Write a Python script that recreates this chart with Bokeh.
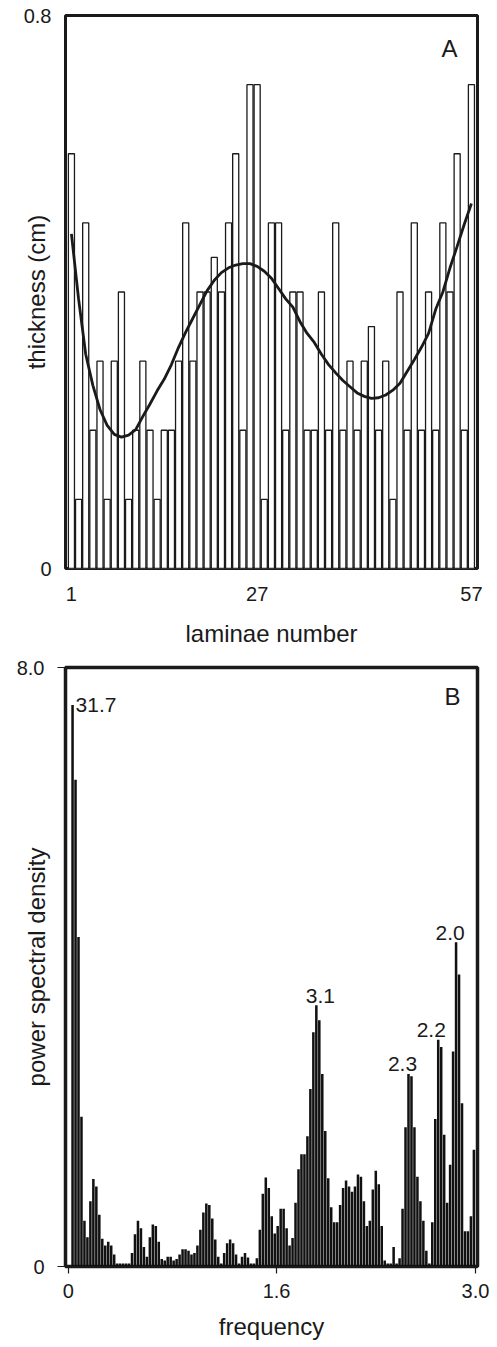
from bokeh.plotting import figure
from bokeh.layouts import column
from bokeh.models import Range1d, FixedTicker, Label, ColumnDataSource
from bokeh.core.properties import value
from bokeh.embed import file_html
from bokeh.resources import INLINE

FONT = "Liberation Sans"
INK = "#1a1a1a"

# ---------------- Panel A data ----------------
laminae = list(range(1, 58))
thickness = [0.6, 0.1, 0.5, 0.2, 0.3, 0.1, 0.3, 0.4, 0.1, 0.2,
             0.3, 0.2, 0.1, 0.2, 0.2, 0.3, 0.5, 0.3, 0.4, 0.4,
             0.45, 0.4, 0.5, 0.6, 0.2, 0.7, 0.7, 0.1, 0.5, 0.5,
             0.2, 0.4, 0.4, 0.2, 0.2, 0.4, 0.2, 0.5, 0.2, 0.3,
             0.2, 0.3, 0.35, 0.2, 0.3, 0.1, 0.4, 0.2, 0.5, 0.2,
             0.4, 0.2, 0.5, 0.4, 0.6, 0.2, 0.7]
trend = [0.484, 0.39, 0.31, 0.265, 0.23, 0.207, 0.194, 0.19, 0.193, 0.201,
         0.22, 0.238, 0.257, 0.274, 0.295, 0.32, 0.342, 0.362, 0.382, 0.402,
         0.417, 0.428, 0.435, 0.439, 0.441, 0.441, 0.437, 0.43, 0.42, 0.405,
         0.39, 0.378, 0.357, 0.34, 0.327, 0.31, 0.295, 0.283, 0.272, 0.263,
         0.254, 0.249, 0.246, 0.247, 0.251, 0.258, 0.268, 0.285, 0.302, 0.32,
         0.34, 0.375, 0.40, 0.435, 0.466, 0.498, 0.528]
a_xticks = [1, 27, 57]
a_yticks = [0, 0.8]
a_ylabels = ["0", "0.8"]

# ---------------- Panel B data ----------------
psd = [7.5, 6.5, 4.4, 2.0, 0.61, 0.39, 0.87, 1.17, 1.07, 0.69,
       0.37, 0.28, 0.33, 0.28, 0.16, 0.04, 0.04, 0.04, 0.04, 0.04,
       0.18, 0.43, 0.61, 0.51, 0.26, 0.13, 0.39, 0.56, 0.54, 0.33,
       0.1, 0.08, 0.13, 0.13, 0.08, 0.1, 0.16, 0.23, 0.23, 0.21,
       0.16, 0.18, 0.28, 0.49, 0.72, 0.84, 0.82, 0.64, 0.36, 0.13,
       0.04, 0.18, 0.31, 0.36, 0.31, 0.16, 0.04, 0.13, 0.18, 0.12,
       0.04, 0.04, 0.11, 0.49, 0.97, 1.19, 1.05, 0.67, 0.44,
       0.54, 0.77, 0.77, 0.51, 0.28, 0.38, 0.85, 1.3, 1.5, 1.5,
       1.74, 2.37, 3.13, 3.49, 3.29, 2.57, 1.81, 1.18, 0.79, 0.59,
       0.59, 0.82, 1.05, 1.15, 1.07, 1.0, 1.07, 1.23, 1.2, 0.87,
       0.54, 0.61, 1.03, 1.28, 1.1, 0.54, 0.08, 0.04, 0.04, 0.26,
       0.04, 0.11, 0.77, 1.86, 2.57, 2.54, 1.86, 1.2, 0.87, 0.61,
       0.21, 0.04, 0.59, 1.97, 3.03, 2.93, 1.76, 0.85, 1.36, 2.87,
       4.33, 3.9, 2.18, 0.47, 0.47, 0.67, 1.56]
FREQ_START = 0.032      # first spectral bin
FREQ_STEP = 0.0219      # spacing of the spectral bins
freq = [FREQ_START + i * FREQ_STEP for i in range(len(psd))]
peak_text = ["31.7", "3.1", "2.3", "2.2", "2.0"]
peak_bin = [0, 82, 113, 123, 129]
b_xticks = [0, 1.535, 3.0]
b_xlabels = ["0", "1.6", "3.0"]
b_yticks = [0, 8]
b_ylabels = ["0", "8.0"]


def style_axes(p):
    for ax in (p.xaxis[0], p.yaxis[0]):
        ax.axis_line_color = None
        ax.major_tick_line_color = INK
        ax.major_tick_line_width = 1.2
        ax.major_tick_in = 0
        ax.minor_tick_line_color = None
        ax.major_label_text_font = FONT
        ax.major_label_text_font_size = "20px"
        ax.major_label_text_color = INK
        ax.axis_label_text_font = FONT
        ax.axis_label_text_font_size = "24px"
        ax.axis_label_text_font_style = "normal"
        ax.axis_label_text_color = INK
    p.xgrid.grid_line_color = None
    p.ygrid.grid_line_color = None
    p.outline_line_color = INK
    p.background_fill_color = "white"
    p.border_fill_color = "white"


# ---------------- Panel A ----------------
pA = figure(width=493, height=654,
            x_range=Range1d(0.17, 57.85), y_range=Range1d(0, 0.8),
            output_backend="svg", toolbar_location=None,
            min_border_left=64, min_border_right=12,
            min_border_top=15, min_border_bottom=86)
style_axes(pA)
pA.outline_line_width = 3
pA.vbar(x=laminae, top=thickness, bottom=0, width=0.85,
        fill_color="white", line_color=INK, line_width=1.3)
pA.line(laminae, trend, line_color=INK, line_width=2.8)
pA.xaxis.ticker = FixedTicker(ticks=a_xticks)
pA.yaxis.ticker = FixedTicker(ticks=a_yticks)
pA.yaxis.major_label_overrides = dict(zip(a_yticks, a_ylabels))
pA.xaxis.major_tick_out = 0
pA.yaxis.major_tick_out = 0
pA.xaxis.major_label_standoff = 18
pA.yaxis.major_label_standoff = 14
pA.xaxis.axis_label = "laminae number"
pA.xaxis.axis_label_standoff = 16
pA.yaxis.axis_label = "thickness (cm)"
pA.yaxis.axis_label_standoff = -29
pA.add_layout(Label(x=pA.x_range.end, y=pA.y_range.end, text="A",
                    x_offset=-20, y_offset=-19, text_align="right",
                    text_baseline="top", text_font=FONT,
                    text_font_size="24px", text_color=INK))

# ---------------- Panel B ----------------
pB = figure(width=493, height=690,
            x_range=Range1d(-0.02, 3.015), y_range=Range1d(0, 8.0),
            output_backend="svg", toolbar_location=None,
            min_border_left=65, min_border_right=16,
            min_border_top=13, min_border_bottom=78)
style_axes(pB)
pB.outline_line_width = 3.5
pB.vbar(x=freq, top=psd, bottom=0, width=FREQ_STEP * 0.85,
        fill_color="#111111", line_color=None)
pB.xaxis.ticker = FixedTicker(ticks=b_xticks)
pB.xaxis.major_label_overrides = dict(zip(b_xticks, b_xlabels))
pB.yaxis.ticker = FixedTicker(ticks=b_yticks)
pB.yaxis.major_label_overrides = dict(zip(b_yticks, b_ylabels))
pB.xaxis.major_tick_out = 7
pB.yaxis.major_tick_out = 8
pB.xaxis.major_label_standoff = 10
pB.yaxis.major_label_standoff = 13
pB.xaxis.axis_label = "frequency"
pB.xaxis.axis_label_standoff = 12
pB.yaxis.axis_label = "power spectral density"
pB.yaxis.axis_label_standoff = -36

peak_src = ColumnDataSource(dict(
    x=[freq[i] for i in peak_bin],
    y=[psd[i] for i in peak_bin],
    text=peak_text,
    dx=[3, 4, -6, -7, -6],
    dy=[0, -9, -10, -10, -9],
    align=["left", "center", "center", "center", "center"],
))
pB.text(x="x", y="y", text="text", x_offset="dx", y_offset="dy",
        text_align="align", text_baseline="alphabetic", source=peak_src,
        text_font=value(FONT), text_font_size="21px", text_color=INK)
pB.add_layout(Label(x=pB.x_range.end, y=pB.y_range.end, text="B",
                    x_offset=-17, y_offset=-15, text_align="right",
                    text_baseline="top", text_font=FONT,
                    text_font_size="24px", text_color=INK))

layout = column(pA, pB)
open("out.html", "w").write(file_html(layout, INLINE))
